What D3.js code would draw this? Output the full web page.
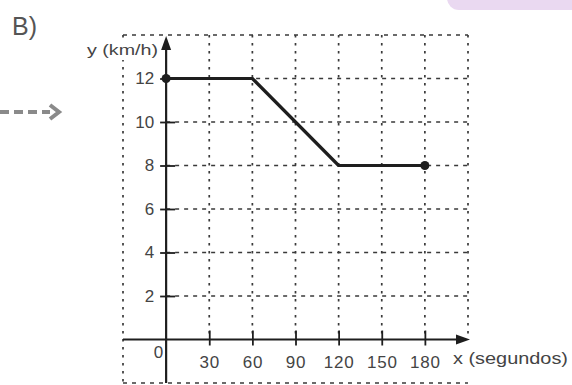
<!DOCTYPE html>
<html><head><meta charset="utf-8">
<script src="https://cdn.jsdelivr.net/npm/d3@7"></script>
<style>body{margin:0;background:#fff}svg{display:block}text{font-family:"Liberation Sans",Arial,sans-serif}</style>
</head><body>
<svg id="c" width="572" height="385"></svg>
<script>
const xValues = [0, 60, 120, 180];
const yValues = [12, 12, 8, 8];
const xTickLabels = [30, 60, 90, 120, 150, 180];
const yTickLabels = [2, 4, 6, 8, 10, 12];
const endpoints = [0, 3];
const xMin = -30, xMax = 210, yMin = -2, yMax = 14;

const svg = d3.select("#c");
const x = d3.scaleLinear().domain([xMin, xMax]).range([123, 468]);
const y = d3.scaleLinear().domain([yMin, yMax]).range([383, 35]);
const ink = "#1e1e1e", txt = "#444", grid = "#3a3a3a";

// pink tab top right
svg.append("rect").attr("x", 447).attr("y", -20).attr("width", 150).attr("height", 30)
  .attr("rx", 12).attr("fill", "#ead9f1");

// title
svg.append("text").attr("x", 12).attr("y", 35).attr("font-size", 25).attr("fill", "#555").text("B)");

// dashed arrow at left
svg.append("line").attr("x1", 0).attr("x2", 50).attr("y1", 112).attr("y2", 112)
  .attr("stroke", "#8a8a8a").attr("stroke-width", 4).attr("stroke-dasharray", "9,5");
svg.append("path").attr("d", "M50,105 L59,112 L50,119").attr("fill", "none")
  .attr("stroke", "#8a8a8a").attr("stroke-width", 4);

// grid
const g = svg.append("g").attr("stroke", grid).attr("stroke-width", 1.7);
const vDash = "2.5,5.5", hDash = "4,5";
g.selectAll("line.v").data(xTickLabels.concat([xMax])).join("line")
  .attr("x1", d => x(d)).attr("x2", d => x(d)).attr("y1", y(yMax)).attr("y2", y(0))
  .attr("stroke-dasharray", vDash);
g.append("line").attr("x1", x(xMin)).attr("x2", x(xMin)).attr("y1", y(yMax)).attr("y2", y(yMin))
  .attr("stroke-dasharray", vDash);
g.selectAll("line.h").data(yTickLabels).join("line")
  .attr("y1", d => y(d)).attr("y2", d => y(d)).attr("x1", x(0)).attr("x2", x(xMax))
  .attr("stroke-dasharray", hDash);
g.selectAll("line.b").data([yMin, yMax]).join("line")
  .attr("y1", d => y(d)).attr("y2", d => y(d)).attr("x1", x(xMin)).attr("x2", x(xMax))
  .attr("stroke-dasharray", hDash);

// axes
const xAxis = d3.axisBottom(x).tickValues(xTickLabels).tickSize(6).tickPadding(10);
const yAxis = d3.axisLeft(y).tickValues(yTickLabels).tickSize(6).tickPadding(6);
const gx = svg.append("g").attr("transform", `translate(0,${y(0)})`).call(xAxis);
const gy = svg.append("g").attr("transform", `translate(${x(0)},0)`).call(yAxis);
[gx, gy].forEach(a => {
  a.select(".domain").remove();
  a.selectAll("line").attr("stroke", ink).attr("stroke-width", 1.8);
  a.selectAll("text").attr("font-size", 17).attr("fill", txt).attr("font-family", '"Liberation Sans",Arial,sans-serif');
});
gx.selectAll("text").attr("letter-spacing", 0.8);
gx.selectAll("line").attr("y1", -9).attr("y2", 6);
gy.selectAll("line").attr("x1", -6).attr("x2", 9);

svg.append("line").attr("x1", x(xMin)).attr("x2", x(xMax) - 6).attr("y1", y(0)).attr("y2", y(0))
  .attr("stroke", ink).attr("stroke-width", 2.2);
svg.append("path").attr("d", `M${x(xMax)+2},${y(0)} L${x(xMax)-12},${y(0)-5} L${x(xMax)-12},${y(0)+5}Z`).attr("fill", ink);

// white backing behind y-axis title
svg.append("rect").attr("x", 84).attr("y", 40).attr("width", 78).attr("height", 20).attr("fill", "#fff");

svg.append("line").attr("x1", x(0)).attr("x2", x(0)).attr("y1", y(yMin)).attr("y2", y(yMax) + 8)
  .attr("stroke", ink).attr("stroke-width", 2.2);
svg.append("path").attr("d", `M${x(0)},${y(yMax)+1} L${x(0)-5},${y(yMax)+15} L${x(0)+5},${y(yMax)+15}Z`).attr("fill", ink);

svg.append("text").attr("x", x(0) - 3).attr("y", y(0) + 18).attr("text-anchor", "end")
  .attr("font-size", 17).attr("fill", txt).text("0");
svg.append("text").attr("x", 158).attr("y", 55).attr("text-anchor", "end")
  .attr("font-size", 15).attr("fill", txt)
  .attr("textLength", 71).attr("lengthAdjust", "spacingAndGlyphs").text("y (km/h)");
svg.append("text").attr("x", 453).attr("y", 364)
  .attr("font-size", 17).attr("fill", txt).attr("textLength", 115).attr("lengthAdjust", "spacingAndGlyphs").text("x (segundos)");

// data line
const pts = xValues.map((v, i) => [v, yValues[i]]);
svg.append("path").datum(pts)
  .attr("d", d3.line().x(d => x(d[0])).y(d => y(d[1])))
  .attr("fill", "none").attr("stroke", ink).attr("stroke-width", 3.2).attr("stroke-linejoin", "round");
svg.selectAll("circle.pt").data(endpoints.map(i => pts[i])).join("circle")
  .attr("cx", d => x(d[0])).attr("cy", d => y(d[1])).attr("r", 4.5).attr("fill", ink);
</script>
</body></html>
